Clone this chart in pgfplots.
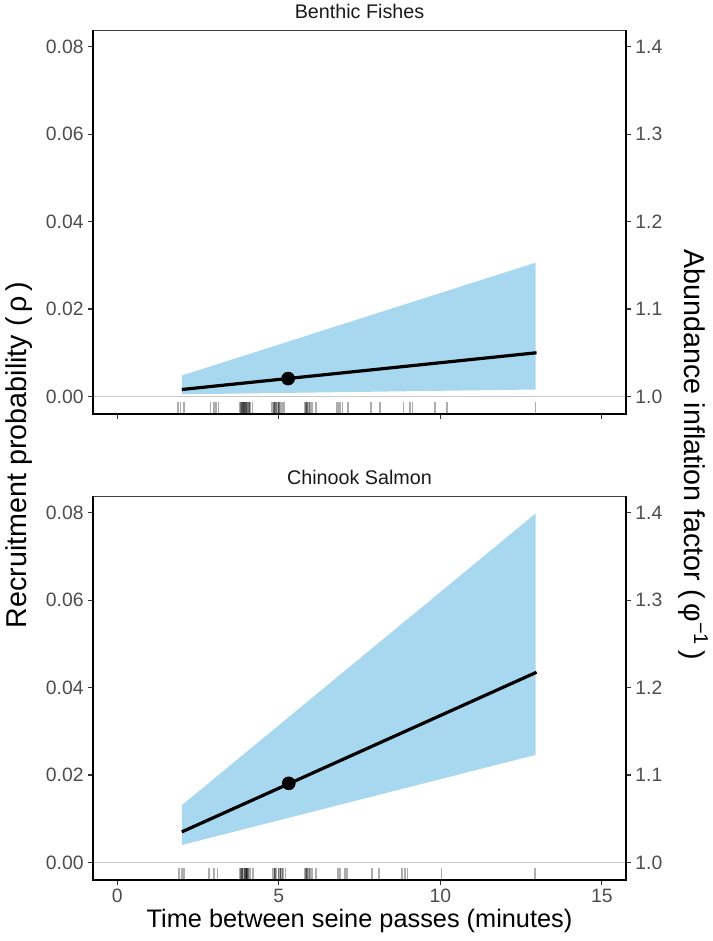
\documentclass[border=0pt]{standalone}
\usepackage{fontspec}
\setmainfont{Liberation Sans}
\usepackage{pgfplots}
\pgfplotsset{compat=1.18}
\usepgfplotslibrary{fillbetween}
\definecolor{band}{RGB}{168,216,240}
\definecolor{ticklab}{RGB}{77,77,77}
\definecolor{zeroline}{RGB}{200,200,200}

\pgfplotsset{
  panel/.style={
    scale only axis, width=399.75pt, height=288pt,
    xmin=-0.75, xmax=15.75, ymin=-0.004, ymax=0.0838, clip=false,
    axis line style={draw=black!75, line width=0.5pt},
    tick align=outside, major tick length=3.5pt,
    tick style={black!80, line width=0.8pt},
    xtick={0,5,10,15}, ytick={0,0.02,0.04,0.06,0.08},
    scaled y ticks=false,
    yticklabel style={/pgf/number format/fixed, /pgf/number format/fixed zerofill, /pgf/number format/precision=2},
    tick label style={font=\fontsize{14.5}{16}\selectfont, text=ticklab},
    /pgf/number format/assume math mode=true,
    xtick pos=bottom, ytick pos=left,
  },
  panelR/.style={
    scale only axis, width=399.75pt, height=288pt,
    xmin=-0.75, xmax=15.75, ymin=0.98, ymax=1.419,
    hide x axis, axis y line*=right,
    axis line style={draw=black, line width=1.1pt},
    tick align=outside, major tick length=3.5pt,
    tick style={black!80, line width=0.8pt},
    ytick={1,1.1,1.2,1.3,1.4},
    scaled y ticks=false,
    yticklabel style={/pgf/number format/fixed, /pgf/number format/fixed zerofill, /pgf/number format/precision=1},
    tick label style={font=\fontsize{14.5}{16}\selectfont, text=ticklab},
    /pgf/number format/assume math mode=true,
  },
  rug/.style={only marks, mark=|, mark size=4.3pt,
    mark options={draw=black, draw opacity=0.32, line width=1.2pt}},
}

\begin{document}
\begin{tikzpicture}

% ---------------- Top panel: Benthic Fishes ----------------
\begin{axis}[panel, at={(0pt,349.5pt)}, xticklabels={}]
  \addplot[name path=bu, draw=none] coordinates {(2.0,0.0048) (12.95,0.0306)};
  \addplot[name path=bl, draw=none] coordinates {(2.0,0.0005) (12.95,0.0016)};
  \addplot[band, draw=none] fill between[of=bu and bl];
  \addplot[zeroline, line width=1.3pt] coordinates {(-0.75,0) (15.75,0)};
  \addplot[black, line width=2.4pt] coordinates {(2.0,0.0016) (12.98,0.0100)};
  \addplot[only marks, mark=*, mark size=4.9pt, mark options={fill=black, draw=black}] coordinates {(5.29,0.0041)};
  \addplot[rug] coordinates {
    (1.89,-0.00264) (1.96,-0.00264) (2.06,-0.00264)
    (2.89,-0.00264) (2.99,-0.00264) (3.05,-0.00264) (3.13,-0.00264)
    (3.80,-0.00264) (3.84,-0.00264) (3.87,-0.00264) (3.87,-0.00264) (3.90,-0.00264) (3.93,-0.00264) (3.93,-0.00264) (3.93,-0.00264) (3.97,-0.00264) (3.97,-0.00264) (3.97,-0.00264) (4.00,-0.00264) (4.00,-0.00264) (4.00,-0.00264) (4.03,-0.00264) (4.03,-0.00264) (4.07,-0.00264) (4.07,-0.00264) (4.10,-0.00264) (4.13,-0.00264) (4.19,-0.00264)
    (4.78,-0.00264) (4.82,-0.00264) (4.85,-0.00264) (4.89,-0.00264) (4.89,-0.00264) (4.93,-0.00264) (4.93,-0.00264) (4.97,-0.00264) (5.01,-0.00264) (5.01,-0.00264) (5.05,-0.00264) (5.09,-0.00264) (5.12,-0.00264) (5.16,-0.00264)
    (5.81,-0.00264) (5.85,-0.00264) (5.88,-0.00264) (5.88,-0.00264) (5.93,-0.00264) (5.97,-0.00264) (6.01,-0.00264) (6.05,-0.00264) (6.15,-0.00264)
    (6.81,-0.00264) (6.85,-0.00264) (6.89,-0.00264) (6.97,-0.00264) (7.15,-0.00264)
    (7.86,-0.00264) (8.13,-0.00264)
    (8.86,-0.00264) (9.06,-0.00264) (9.14,-0.00264)
    (9.84,-0.00264) (10.20,-0.00264)
    (12.95,-0.00264)
  };
  \draw[line width=1.1pt, black] (rel axis cs:0,1) -- (rel axis cs:0,0) -- (rel axis cs:1,0) -- (rel axis cs:1,1);
  \node[anchor=base, font=\fontsize{14.8}{16}\selectfont, text=black!90] at (rel axis cs:0.5,1) [yshift=8.25pt] {Benthic Fishes};
\end{axis}
\begin{axis}[panelR, at={(0pt,349.5pt)}]
  \addplot[draw=none] coordinates {(0,1.0) (15,1.4)};
\end{axis}

% ---------------- Bottom panel: Chinook Salmon ----------------
\begin{axis}[panel, at={(0pt,0pt)}]
  \addplot[name path=cu, draw=none] coordinates {(2.0,0.0131) (12.95,0.0798)};
  \addplot[name path=cl, draw=none] coordinates {(2.0,0.0040) (12.95,0.0246)};
  \addplot[band, draw=none] fill between[of=cu and cl];
  \addplot[zeroline, line width=1.3pt] coordinates {(-0.75,0) (15.75,0)};
  \addplot[black, line width=2.4pt] coordinates {(2.0,0.0070) (12.98,0.0435)};
  \addplot[only marks, mark=*, mark size=4.9pt, mark options={fill=black, draw=black}] coordinates {(5.31,0.0181)};
  \addplot[rug] coordinates {
    (1.92,-0.00264) (2.00,-0.00264) (2.07,-0.00264)
    (2.84,-0.00264) (2.99,-0.00264) (3.11,-0.00264)
    (3.80,-0.00264) (3.84,-0.00264) (3.87,-0.00264) (3.87,-0.00264) (3.90,-0.00264) (3.94,-0.00264) (3.94,-0.00264) (3.94,-0.00264) (3.98,-0.00264) (3.98,-0.00264) (3.98,-0.00264) (4.02,-0.00264) (4.02,-0.00264) (4.02,-0.00264) (4.06,-0.00264) (4.06,-0.00264) (4.10,-0.00264) (4.13,-0.00264) (4.21,-0.00264)
    (4.81,-0.00264) (4.85,-0.00264) (4.89,-0.00264) (4.89,-0.00264) (4.93,-0.00264) (4.99,-0.00264) (4.99,-0.00264) (5.03,-0.00264) (5.06,-0.00264) (5.06,-0.00264) (5.10,-0.00264) (5.14,-0.00264) (5.21,-0.00264)
    (5.81,-0.00264) (5.85,-0.00264) (5.88,-0.00264) (5.88,-0.00264) (5.93,-0.00264) (5.97,-0.00264) (6.01,-0.00264) (6.05,-0.00264) (6.15,-0.00264)
    (6.84,-0.00264) (6.88,-0.00264) (6.91,-0.00264) (7.05,-0.00264) (7.12,-0.00264)
    (7.88,-0.00264) (8.10,-0.00264)
    (8.82,-0.00264) (8.91,-0.00264) (8.99,-0.00264)
    (10.04,-0.00264)
    (12.93,-0.00264)
  };
  \draw[line width=1.1pt, black] (rel axis cs:0,1) -- (rel axis cs:0,0) -- (rel axis cs:1,0) -- (rel axis cs:1,1);
  \node[anchor=base, font=\fontsize{14.8}{16}\selectfont, text=black!90] at (rel axis cs:0.5,1) [yshift=8.25pt] {Chinook Salmon};
\end{axis}
\begin{axis}[panelR, at={(0pt,0pt)}]
  \addplot[draw=none] coordinates {(0,1.0) (15,1.4)};
\end{axis}

% ---------------- Axis titles ----------------
\node[rotate=90, font=\fontsize{21.5}{24}\selectfont] at (-55.5pt,318.75pt) {Recruitment probability (\,ρ\,)};
\node[rotate=-90, font=\fontsize{21.5}{24}\selectfont] at (450pt,318.75pt) {Abundance inflation factor (\,φ\textsuperscript{−1}\,)};
\node[font=\fontsize{19}{22}\selectfont] at (199.9pt,-30.75pt) {Time between seine passes (minutes)};
\path[use as bounding box] (-69.75pt,-45.75pt) rectangle (462pt,660pt);
\end{tikzpicture}
\end{document}
